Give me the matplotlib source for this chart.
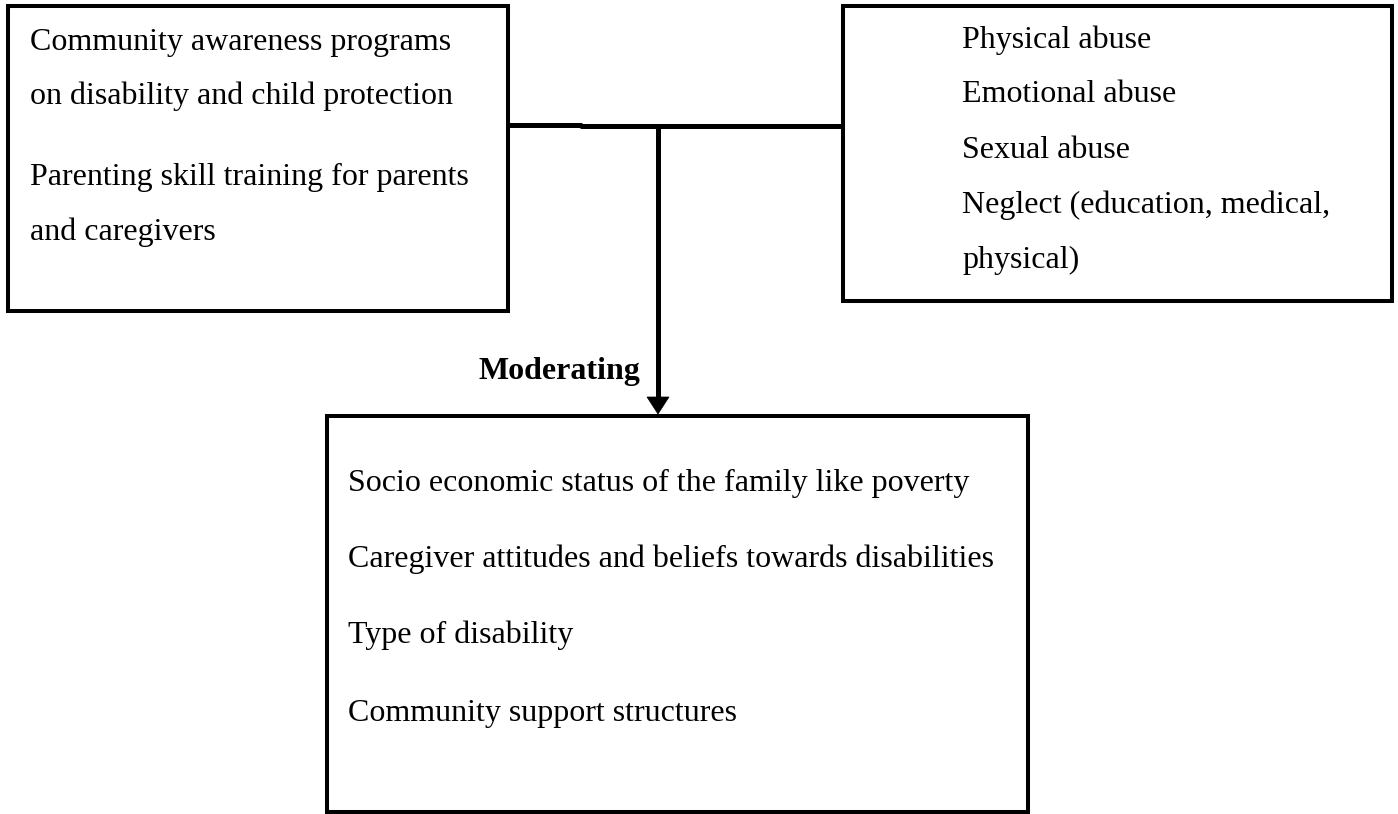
import matplotlib
matplotlib.use("Agg")
import matplotlib.pyplot as plt
from matplotlib.patches import Rectangle, Polygon

# ---- content ----
independent_items = [
    "Community awareness programs",
    "on disability and child protection",
    "Parenting skill training for parents",
    "and caregivers",
]
dependent_items = [
    "Physical abuse",
    "Emotional abuse",
    "Sexual abuse",
    "Neglect (education, medical,",
    "physical)",
]
moderating_items = [
    "Socio economic status of the family like poverty",
    "Caregiver attitudes and beliefs towards disabilities",
    "Type of disability",
    "Community support structures",
]
moderating_label = "Moderating"

# ---- layout (pixel coordinates, y downward) ----
W, H = 1398, 814
fig = plt.figure(figsize=(W / 100, H / 100), dpi=100)
ax = fig.add_axes([0, 0, 1, 1])
ax.set_xlim(0, W)
ax.set_ylim(H, 0)
ax.axis("off")

FONT = "Liberation Serif"
FS = 23
box_lw = 2.9
line_lw = 3.6

def box(x0, y0, x1, y1):
    ax.add_patch(Rectangle((x0, y0), x1 - x0, y1 - y0, fill=False,
                           edgecolor="black", linewidth=box_lw,
                           joinstyle="miter", clip_on=False))

# boxes
box(8, 6, 508, 311)
box(843, 6, 1392, 301)
box(327, 415.5, 1028, 812)

# left texts
left_base = [50, 104, 185, 240]
for t, y in zip(independent_items, left_base):
    ax.text(30, y, t, fontsize=FS, family=FONT, va="baseline", ha="left")

# right texts
right_base = [48, 102, 158, 213, 268]
for t, y in zip(dependent_items, right_base):
    ax.text(962, y, t, fontsize=FS, family=FONT, va="baseline", ha="left")

# bottom texts
bottom_base = [491, 567, 643, 721]
for t, y in zip(moderating_items, bottom_base):
    ax.text(348, y, t, fontsize=FS, family=FONT, va="baseline", ha="left")

# connectors
ax.plot([508, 582], [124.5, 124.5], color="black", lw=line_lw,
        solid_capstyle="butt", clip_on=False)
ax.plot([580, 843], [126, 126], color="black", lw=line_lw,
        solid_capstyle="butt", clip_on=False)
ax.plot([658, 658], [124, 400], color="black", lw=line_lw,
        solid_capstyle="butt", clip_on=False)
ax.add_patch(Polygon([[647, 397], [669, 397], [658, 414]], closed=True,
                     facecolor="black", edgecolor="black", lw=0.5,
                     clip_on=False))

# label
ax.text(640, 379, moderating_label, fontsize=FS, family=FONT,
        fontweight="bold", va="baseline", ha="right")

fig.savefig("out.png", dpi=100, facecolor="white")
